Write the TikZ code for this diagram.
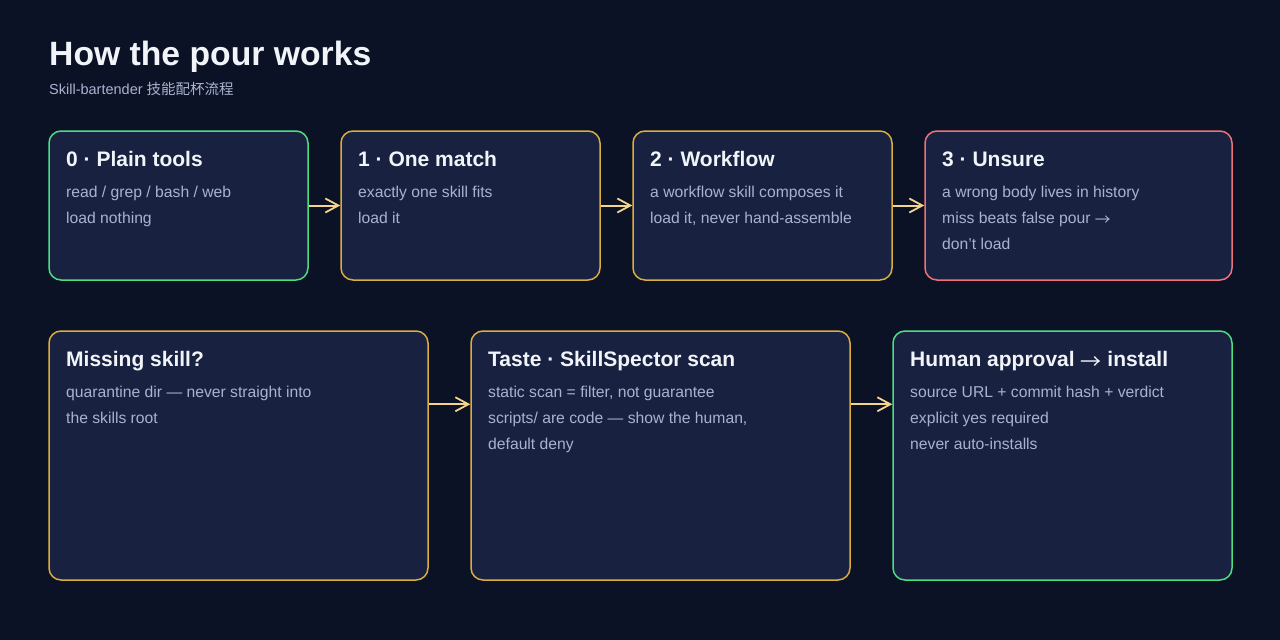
\documentclass[tikz,border=0pt]{standalone}
\usepackage{fontspec}
\setmainfont{Liberation Sans}
\newfontfamily\cjk{Noto Sans CJK SC}
\usetikzlibrary{arrows.meta}
\definecolor{bg}{HTML}{0C1226}
\definecolor{boxfill}{HTML}{18213F}
\definecolor{cgreen}{HTML}{4ADE80}
\definecolor{cyellow}{HTML}{D9AE3A}
\definecolor{cred}{HTML}{F07178}
\definecolor{carrow}{HTML}{F2D48A}
\definecolor{ctitle}{HTML}{F1F5F9}
\definecolor{cbody}{HTML}{A9B3D1}
\newcommand{\rarr}{\raisebox{-0.17em}{\cjk\mdseries →}}
\tikzset{
  box/.style={draw, fill=boxfill, line width=1.5pt, rounded corners=12pt, inner sep=0pt},
  boxtitle/.style={anchor=base west, inner sep=0pt, text=ctitle, font=\fontsize{21}{25}\selectfont\bfseries},
  boxbody/.style={anchor=base west, inner sep=0pt, text=cbody, font=\fontsize{15.7}{26}\selectfont, align=left},
  arr/.style={draw=carrow, line width=2pt, -{Straight Barb[length=13pt,width=14pt,line width=1.8pt]}}
}
\begin{document}
\begin{tikzpicture}[x=1pt,y=-1pt]
\useasboundingbox (0,0) rectangle (1280,640);
\fill[bg] (0,0) rectangle (1280,640);
\node[anchor=base west, inner sep=0pt, text=ctitle, font=\fontsize{33.7}{40}\selectfont\bfseries] (title) at (49,65) {How the pour works};
\node[anchor=base west, inner sep=0pt, text=cbody, font=\fontsize{14.5}{17}\selectfont] (sub) at (49,94) {Skill-bartender {\cjk 技能配杯流程}};
% row 1
\node[box, draw=cgreen, minimum width=259pt, minimum height=149pt] (b0) at (178.5,205.5) {};
\node[box, draw=cyellow, minimum width=259pt, minimum height=149pt] (b1) at (470.5,205.5) {};
\node[box, draw=cyellow, minimum width=259pt, minimum height=149pt] (b2) at (762.5,205.5) {};
\node[box, draw=cred, minimum width=307pt, minimum height=149pt] (b3) at (1078.5,205.5) {};
% row 2
\node[box, draw=cyellow, minimum width=379pt, minimum height=249pt] (b4) at (238.5,455.5) {};
\node[box, draw=cyellow, minimum width=379pt, minimum height=249pt] (b5) at (660.5,455.5) {};
\node[box, draw=cgreen, minimum width=339pt, minimum height=249pt] (b6) at (1062.5,455.5) {};
% texts row 1
\node[boxtitle] (t0) at (66,166) {0 · Plain tools};
\node[boxbody] (d0a) at (66,197) {read / grep / bash / web};
\node[boxbody] (d0b) at (66,223) {load nothing};
\node[boxtitle] (t1) at (358,166) {1 · One match};
\node[boxbody] (d1a) at (358,197) {exactly one skill fits};
\node[boxbody] (d1b) at (358,223) {load it};
\node[boxtitle] (t2) at (650,166) {2 · Workflow};
\node[boxbody] (d2a) at (650,197) {a workflow skill composes it};
\node[boxbody] (d2b) at (650,223) {load it, never hand-assemble};
\node[boxtitle] (t3) at (942,166) {3 · Unsure};
\node[boxbody] (d3a) at (942,197) {a wrong body lives in history};
\node[boxbody] (d3b) at (942,223) {miss beats false pour \rarr};
\node[boxbody] (d3c) at (942,249) {don't load};
% texts row 2
\node[boxtitle] (t4) at (66,366) {Missing skill?};
\node[boxbody] (d4a) at (66,397) {quarantine dir — never straight into};
\node[boxbody] (d4b) at (66,423) {the skills root};
\node[boxtitle] (t5) at (488,366) {Taste · SkillSpector scan};
\node[boxbody] (d5a) at (488,397) {static scan = filter, not guarantee};
\node[boxbody] (d5b) at (488,423) {scripts/ are code — show the human,};
\node[boxbody] (d5c) at (488,449) {default deny};
\node[boxtitle] (t6) at (910,366) {Human approval \rarr{} install};
\node[boxbody] (d6a) at (910,397) {source URL + commit hash + verdict};
\node[boxbody] (d6b) at (910,423) {explicit yes required};
\node[boxbody] (d6c) at (910,449) {never auto-installs};
% arrows
\draw[arr] (b0.east) -- (b1.west);
\draw[arr] (b1.east) -- (b2.west);
\draw[arr] (b2.east) -- (b3.west);
\draw[arr] ([yshift=-74pt]b4.north east) -- ([yshift=-74pt]b5.north west);
\draw[arr] ([yshift=-74pt]b5.north east) -- ([yshift=-74pt]b6.north west);
\end{tikzpicture}
\end{document}
